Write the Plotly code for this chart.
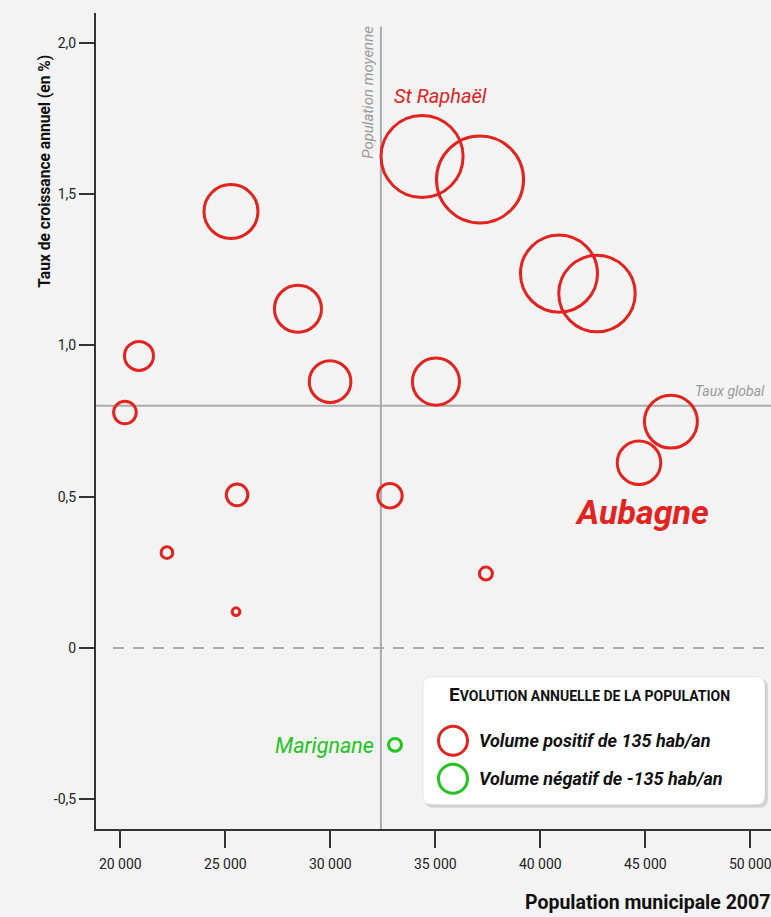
import plotly.graph_objects as go

# ---- data ----
population = [20220, 20890, 22220, 25270, 25510, 25560, 28460, 29990, 32840,
              34370, 35030, 37130, 37410, 40890, 42700, 44700, 46220]
taux = [0.778, 0.965, 0.315, 1.442, 0.120, 0.506, 1.121, 0.880, 0.503,
        1.624, 0.880, 1.548, 0.246, 1.237, 1.171, 0.612, 0.748]
volume = [154, 197, 79, 367, 52, 147, 320, 283, 166,
          558, 320, 592, 88, 524, 520, 296, 360]

neg_population = [33080]
neg_taux = [-0.320]
neg_volume = [88]

pop_moyenne = 32410
taux_global = 0.80

x_ticks = [20000, 25000, 30000, 35000, 40000, 45000, 50000]
x_ticktext = ["20 000", "25 000", "30 000", "35 000", "40 000", "45 000", "50 000"]
y_ticks = [-0.5, 0, 0.5, 1.0, 1.5, 2.0]
y_ticktext = ["-0,5", "0", "0,5", "1,0", "1,5", "2,0"]

RED = "#e2231f"
GREEN = "#22c41e"
GREY = "#ababab"
BG = "#f3f3f3"
FONT = "Roboto, Lato, sans-serif"

W, H = 771, 917
L, R_EDGE, T, B = 96, 771, 13.3, 829.3

def px(p):
    return (p - L) / (R_EDGE - L)

def py(p):
    return (B - p) / (B - T)

fig = go.Figure()

fig.add_trace(go.Scatter(
    x=population, y=taux, mode="markers",
    marker=dict(size=volume, sizemode="diameter", sizeref=6.8, opacity=1,
                color="rgba(0,0,0,0)", line=dict(color=RED, width=3)),
    hoverinfo="x+y", showlegend=False))

fig.add_trace(go.Scatter(
    x=neg_population, y=neg_taux, mode="markers",
    marker=dict(size=neg_volume, sizemode="diameter", sizeref=6.8, opacity=1,
                color="rgba(0,0,0,0)", line=dict(color=GREEN, width=3)),
    hoverinfo="x+y", showlegend=False))

shapes = [
    dict(type="line", xref="x", yref="paper", x0=pop_moyenne, x1=pop_moyenne,
         y0=0, y1=py(27), line=dict(color=GREY, width=2), layer="below"),
    dict(type="line", xref="paper", yref="y", x0=0, x1=1, y0=taux_global, y1=taux_global,
         line=dict(color=GREY, width=2), layer="below"),
    dict(type="line", xref="paper", yref="y", x0=px(113), x1=1, y0=0, y1=0,
         line=dict(color=GREY, width=2, dash="11px,9px"), layer="below"),
]

# legend box (shadow + box)
def rounded(x0, y0, x1, y1, r):
    X0, X1 = px(x0), px(x1)
    Y0, Y1 = py(y0), py(y1)
    rx = r / (R_EDGE - L)
    ry = r / (B - T)
    return (f"M {X0+rx},{Y0} L {X1-rx},{Y0} Q {X1},{Y0} {X1},{Y0-ry} "
            f"L {X1},{Y1+ry} Q {X1},{Y1} {X1-rx},{Y1} L {X0+rx},{Y1} "
            f"Q {X0},{Y1} {X0},{Y1+ry} L {X0},{Y0-ry} Q {X0},{Y0} {X0+rx},{Y0} Z")

shapes.append(dict(type="path", xref="paper", yref="paper",
                   path=rounded(425, 679, 768, 808, 9),
                   fillcolor="rgba(0,0,0,0.13)", line=dict(width=0)))
shapes.append(dict(type="path", xref="paper", yref="paper",
                   path=rounded(423, 677, 765, 805, 9),
                   fillcolor="white", line=dict(color="rgba(0,0,0,0.08)", width=1)))

for cy, col in [(741, RED), (779, GREEN)]:
    r = 14.5
    shapes.append(dict(type="circle", xref="paper", yref="paper",
                       x0=px(453 - r), x1=px(453 + r), y0=py(cy + r), y1=py(cy - r),
                       line=dict(color=col, width=3), fillcolor="rgba(0,0,0,0)"))

annotations = [
    dict(text="<b>Taux de croissance annuel (en %)</b>", textangle=-90,
         xref="paper", yref="paper", x=px(45), y=py(172), showarrow=False,
         font=dict(family=FONT, size=15.6, color="#111"), xanchor="center", yanchor="middle"),
    dict(text="<b>Population municipale 2007</b>",
         xref="paper", yref="paper", x=px(772), y=py(903), showarrow=False,
         font=dict(family=FONT, size=19.5, color="#111"), xanchor="right", yanchor="middle"),
    dict(text="<i>Population moyenne</i>", textangle=-90,
         xref="paper", yref="paper", x=px(368), y=py(93), showarrow=False,
         font=dict(family=FONT, size=15, color="#9a9a9a"), xanchor="center", yanchor="middle"),
    dict(text="<i>Taux global</i>",
         xref="paper", yref="paper", x=px(767), y=py(391), showarrow=False,
         font=dict(family=FONT, size=14, color="#9a9a9a"), xanchor="right", yanchor="middle"),
    dict(text="<i>St Raphaël</i>",
         xref="paper", yref="paper", x=px(440), y=py(96), showarrow=False,
         font=dict(family=FONT, size=20, color=RED), xanchor="center", yanchor="middle"),
    dict(text="<b><i>Aubagne</i></b>",
         xref="paper", yref="paper", x=px(642), y=py(512), showarrow=False,
         font=dict(family=FONT, size=34, color=RED), xanchor="center", yanchor="middle"),
    dict(text="<i>Marignane</i>",
         xref="paper", yref="paper", x=px(376), y=py(746), showarrow=False,
         font=dict(family=FONT, size=21.5, color=GREEN), xanchor="right", yanchor="middle"),
    dict(text="<b>E<span style='font-size:14px'>VOLUTION ANNUELLE DE LA POPULATION</span></b>",
         xref="paper", yref="paper", x=px(589), y=py(695), showarrow=False,
         font=dict(family=FONT, size=19, color="#111"), xanchor="center", yanchor="middle"),
    dict(text="<b><i>Volume positif de 135 hab/an</i></b>",
         xref="paper", yref="paper", x=px(477), y=py(741), showarrow=False,
         font=dict(family=FONT, size=18, color="#111"), xanchor="left", yanchor="middle"),
    dict(text="<b><i>Volume négatif de -135 hab/an</i></b>",
         xref="paper", yref="paper", x=px(477), y=py(779), showarrow=False,
         font=dict(family=FONT, size=18, color="#111"), xanchor="left", yanchor="middle"),
]

fig.update_layout(
    width=W, height=H,
    margin=dict(l=L, r=W - R_EDGE, t=T, b=H - B, pad=0),
    paper_bgcolor=BG, plot_bgcolor=BG,
    shapes=shapes, annotations=annotations,
    showlegend=False,
    font=dict(family=FONT, size=14, color="#222"),
    xaxis=dict(range=[18843, 50986], tickvals=x_ticks, ticktext=x_ticktext,
               showgrid=False, zeroline=False, showline=True, linecolor="#333",
               linewidth=2, ticks="outside", ticklen=17, tickwidth=1.5, tickcolor="#333",
               ticklabelstandoff=4, ticklabeloverflow="allow",
               tickfont=dict(family=FONT, size=14, color="#222")),
    yaxis=dict(range=[-0.598, 2.098], tickvals=y_ticks, ticktext=y_ticktext,
               showgrid=False, zeroline=False, showline=True, linecolor="#333",
               linewidth=2, ticks="outside", ticklen=15, tickwidth=1.5, tickcolor="#333",
               tickfont=dict(family=FONT, size=14, color="#222")),
)

fig.write_html(
    "out.html",
    config={"displayModeBar": False},
    post_script="document.body.style.margin='0';document.body.style.overflow='hidden';"
                "document.documentElement.style.overflow='hidden';",
)
